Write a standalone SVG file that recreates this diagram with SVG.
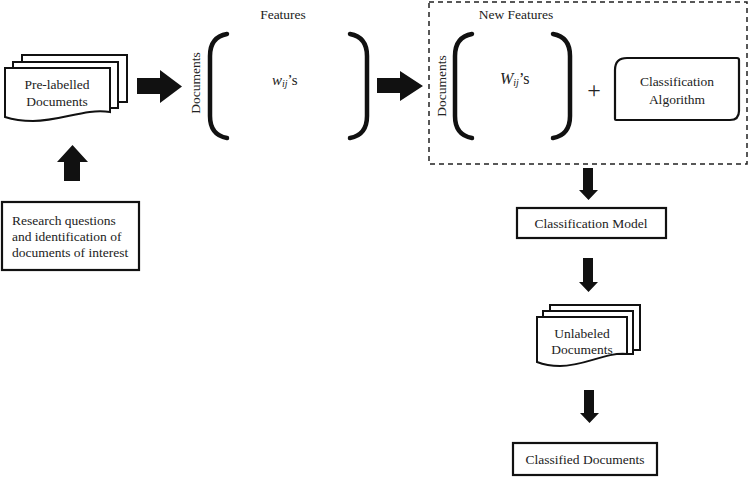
<svg xmlns="http://www.w3.org/2000/svg" width="750" height="477" viewBox="0 0 750 477" font-family="Liberation Serif, Times New Roman, serif">
<style>
text{font-family:"Liberation Serif","Times New Roman",serif;fill:#222;font-size:13.5px}
.c{text-anchor:middle}
.box{fill:#fff;stroke:#111;stroke-width:2.2}
.pg{fill:#fff;stroke:#111;stroke-width:2}
.br{fill:none;stroke:#111;stroke-width:4.5;stroke-linecap:round}
.ar{fill:#111}
.dash{fill:none;stroke:#222;stroke-width:1.5;stroke-dasharray:5 4}
</style>
<rect width="750" height="477" fill="#fff"/>

<g id="connectors">
  <path class="ar" d="M137,78 H160 V70 L182,86.5 L160,103 V94 H137 Z"/>
  <path class="ar" d="M377,78 H400 V71 L423,86 L400,101 V93 H377 Z"/>
  <path class="ar" d="M64,181 V162 H57 L72.5,145 L88,162 H80 V181 Z"/>
  <path class="ar" d="M583,168 V190 H579 L588.5,200 L598,190 H593 V168 Z"/>
  <path class="ar" d="M583,258 V282 H579 L588.5,292 L598,282 H593 V258 Z"/>
  <path class="ar" d="M584,390 V413 H580 L589.5,423 L599,413 H594 V390 Z"/>
</g>

<g id="prelabelled">
  <rect class="pg" x="22" y="55" width="105" height="47"/>
  <rect class="pg" x="13" y="62" width="105" height="46"/>
  <path class="pg" d="M5,68 H110 V112 C85,108 62,121 33,121 C20,121 11,119 5,117 Z"/>
  <text class="c" x="57" y="89">Pre-labelled</text>
  <text class="c" x="57" y="106">Documents</text>
</g>

<g id="research">
  <rect class="box" x="2" y="202" width="137" height="68"/>
  <text x="12" y="225">Research questions</text>
  <text x="12" y="241">and identification of</text>
  <text x="12" y="257">documents of interest</text>
</g>

<g id="matrix1">
  <text class="c" x="283" y="19">Features</text>
  <text class="c" transform="translate(200,83) rotate(-90)">Documents</text>
  <path class="br" d="M227,34 Q210,37 210,56 V116 Q210,135 227,138"/>
  <path class="br" d="M350,34 Q367,37 367,56 V116 Q367,135 350,138"/>
  <text x="272" y="85" style="font-size:15px"><tspan font-style="italic">w</tspan><tspan font-style="italic" font-size="10" dy="2">ij</tspan><tspan dy="-2">’s</tspan></text>
</g>

<g id="newfeatures">
  <rect class="dash" x="429" y="2" width="318" height="162"/>
  <text class="c" x="516" y="19">New Features</text>
  <text class="c" transform="translate(446,86) rotate(-90)">Documents</text>
  <path class="br" d="M472,34 Q455,37 455,56 V116 Q455,135 472,138"/>
  <path class="br" d="M553,34 Q570,37 570,56 V116 Q570,135 553,138"/>
  <text x="500" y="84" style="font-size:16px"><tspan font-style="italic">W</tspan><tspan font-style="italic" font-size="10" dy="2">ij</tspan><tspan dy="-2">’s</tspan></text>
  <text class="c" x="594" y="98" style="font-size:24px">+</text>
</g>

<g id="algorithm">
  <path class="box" d="M627,58 H737 Q739,58 739,60 V111 Q739,120 730,120 H616 Q615,120 615,119 V70 Q615,58 627,58 Z"/>
  <text class="c" x="677" y="86">Classification</text>
  <text class="c" x="677" y="104">Algorithm</text>
</g>

<g id="model">
  <rect class="box" x="517" y="208" width="149" height="30"/>
  <text class="c" x="591" y="228">Classification Model</text>
</g>

<g id="unlabeled">
  <rect class="pg" x="550" y="305" width="90" height="45"/>
  <rect class="pg" x="543" y="311" width="90" height="43"/>
  <path class="pg" d="M537,317 H627 V354 C605,352 585,366 560,366 C550,366 542,364 537,362 Z"/>
  <text class="c" x="582" y="338">Unlabeled</text>
  <text class="c" x="582" y="354">Documents</text>
</g>

<g id="classified">
  <rect class="box" x="513" y="443" width="144" height="32"/>
  <text class="c" x="585" y="464">Classified Documents</text>
</g>
</svg>
